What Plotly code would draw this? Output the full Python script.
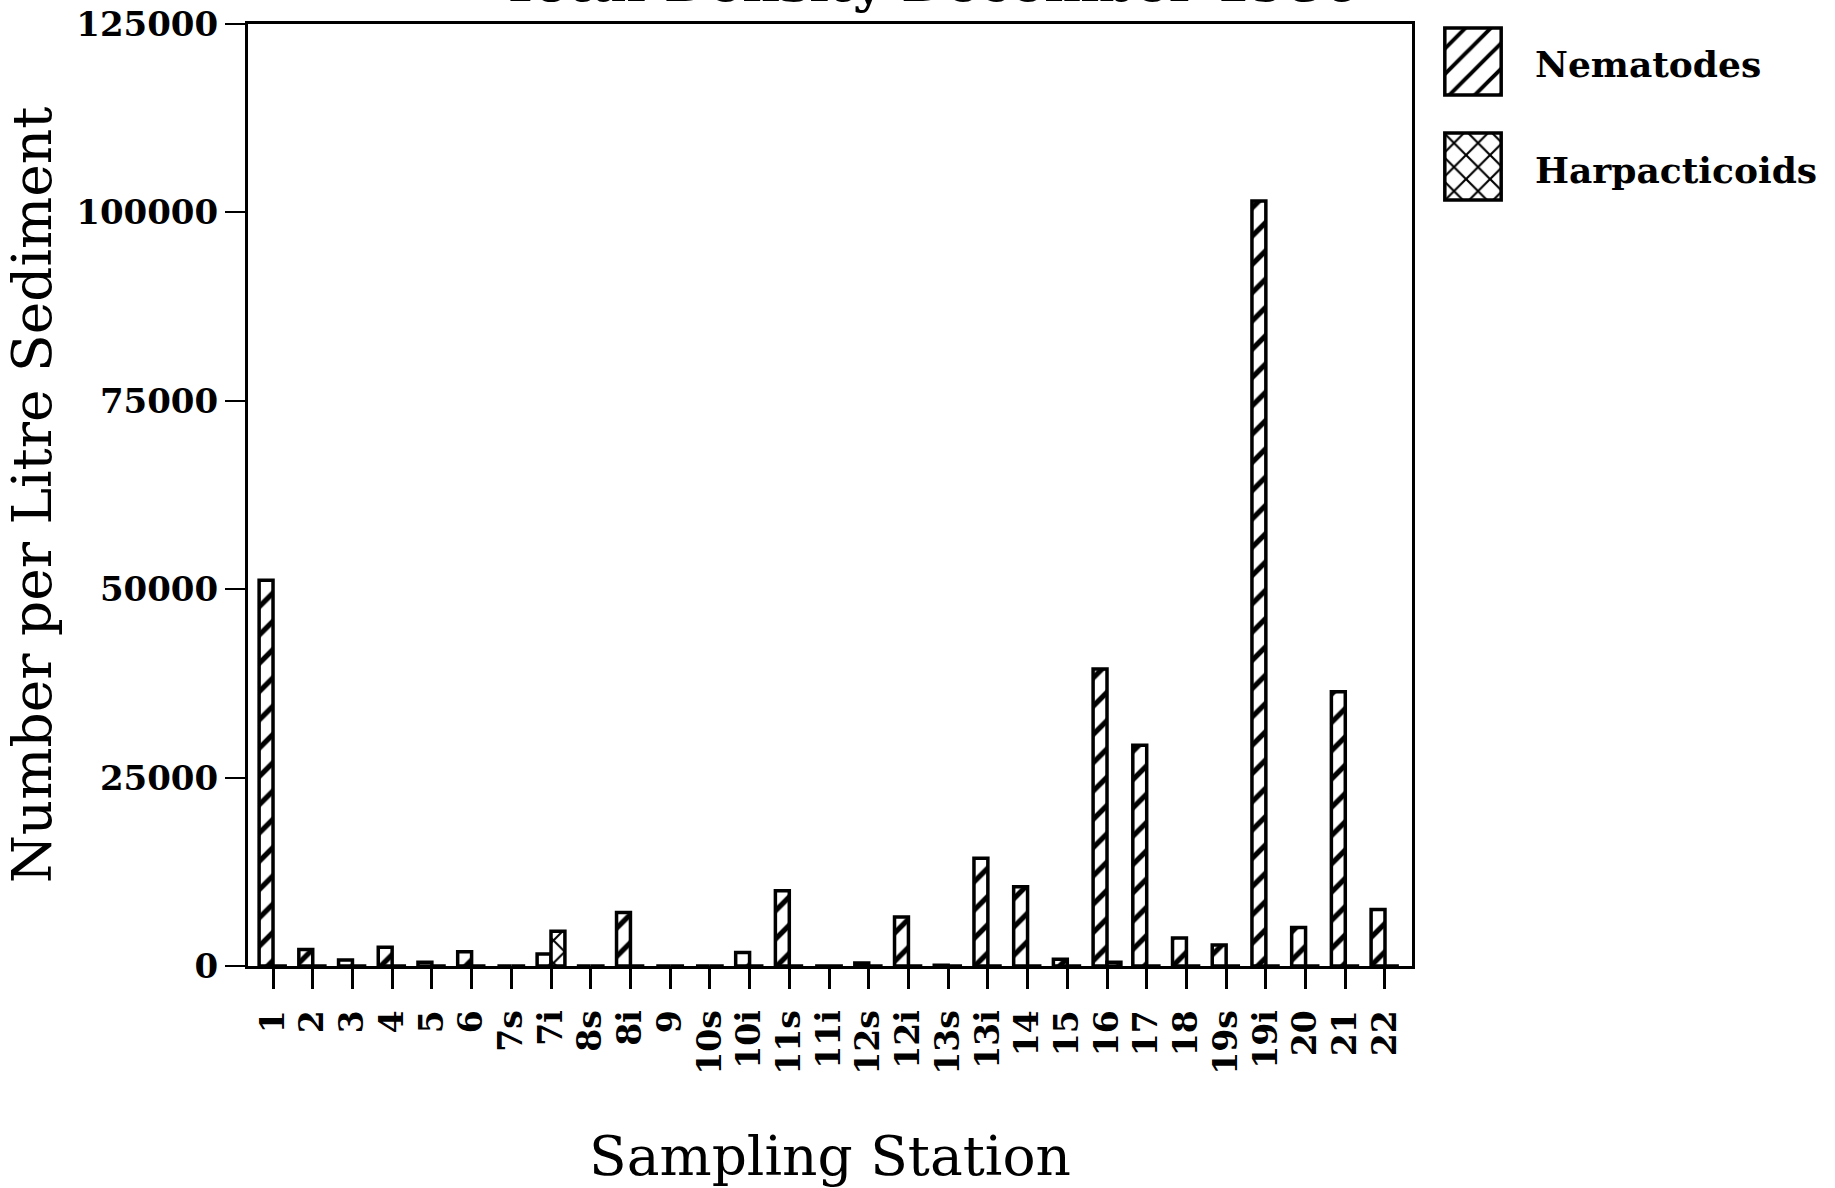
import plotly.graph_objects as go

# Sampling stations and densities (number per litre of sediment)
stations = ["1", "2", "3", "4", "5", "6", "7s", "7i", "8s", "8i", "9", "10s", "10i",
            "11s", "11i", "12s", "12i", "13s", "13i", "14", "15", "16", "17", "18",
            "19s", "19i", "20", "21", "22"]
nematodes = [51200, 2200, 800, 2500, 500, 1900, 0, 1600, 0, 7100, 0, 0, 1800,
             10000, 0, 400, 6500, 100, 14300, 10500, 900, 39400, 29300, 3700,
             2800, 101500, 5100, 36400, 7500]
harpacticoids = [0, 0, 0, 0, 0, 0, 0, 4600, 0, 0, 0, 0, 0,
                 0, 0, 0, 0, 0, 0, 0, 0, 500, 0, 0,
                 0, 0, 0, 0, 0]
y_ticks = [0, 25000, 50000, 75000, 100000, 125000]
series_names = ["Nematodes", "Harpacticoids"]

SERIF = "DejaVu Serif"
W, H = 1835, 1188
ML, MR, MT, MB = 248, 10, 24, 222
pw = W - ML - MR
ph = H - MT - MB
main_right = (1412 - ML) / pw

def px_x(x):
    return (x - ML) / pw

def px_y(y):
    return (H - MB - y) / ph

xs = list(range(len(stations)))
bar_w = 0.35
hatch = dict(shape="/", fgcolor="black", bgcolor="white", fgopacity=1,
             size=20, solidity=0.26)
cross = dict(shape="x", fgcolor="black", bgcolor="white", fgopacity=1,
             size=16, solidity=0.24)

fig = go.Figure()
fig.add_trace(go.Bar(
    x=xs, y=nematodes, name=series_names[0], offset=-bar_w, width=bar_w,
    marker=dict(color="white", pattern=hatch, line=dict(color="black", width=3.5)),
    showlegend=False))
fig.add_trace(go.Bar(
    x=xs, y=harpacticoids, name=series_names[1], offset=0, width=bar_w,
    marker=dict(color="white", pattern=cross, line=dict(color="black", width=3.5)),
    showlegend=False))

# Legend swatches drawn as single patterned bars on small hidden axes
fig.add_trace(go.Bar(
    x=[0], y=[1], width=1, xaxis="x2", yaxis="y2", showlegend=False,
    marker=dict(color="white", pattern=dict(shape="/", fgcolor="black", bgcolor="white",
                                            fgopacity=1, size=18, solidity=0.22),
                line=dict(color="black", width=3.5))))
fig.add_trace(go.Bar(
    x=[0], y=[1], width=1, xaxis="x3", yaxis="y3", showlegend=False,
    marker=dict(color="white", pattern=dict(shape="x", fgcolor="black", bgcolor="white",
                                            fgopacity=1, size=17, solidity=0.24),
                line=dict(color="black", width=3.5))))

sw_x = [px_x(1442), px_x(1504)]
fig.update_layout(
    width=W, height=H,
    margin=dict(l=ML, r=MR, t=MT, b=MB, autoexpand=False),
    paper_bgcolor="white", plot_bgcolor="white",
    barmode="overlay",
    font=dict(family=SERIF, color="black"),
    xaxis=dict(
        domain=[0, main_right], range=[-0.63, 28.68],
        tickmode="array", tickvals=xs, ticktext=stations, tickangle=-90,
        tickfont=dict(family=SERIF, size=33, weight="bold"),
        ticks="outside", ticklen=20, tickwidth=3, tickcolor="black",
        ticklabelstandoff=8,
        showline=True, linewidth=3, linecolor="black", mirror=True,
        showgrid=False, zeroline=False,
        title=dict(text="Sampling Station", font=dict(family=SERIF, size=55), standoff=68),
    ),
    yaxis=dict(
        range=[0, 125000], tickmode="array", tickvals=y_ticks,
        ticktext=[str(v) for v in y_ticks],
        tickfont=dict(family=SERIF, size=34, weight="bold"),
        ticks="outside", ticklen=20, tickwidth=2, tickcolor="black",
        ticklabelstandoff=0,
        showline=True, linewidth=3, linecolor="black", mirror=True,
        showgrid=False, zeroline=False,
        title=dict(text="Number per Litre Sediment", font=dict(family=SERIF, size=55),
                   standoff=16),
    ),
    xaxis2=dict(domain=sw_x, range=[-0.55, 0.55], visible=False, anchor="y2"),
    yaxis2=dict(domain=[px_y(97), px_y(26)], range=[-0.03, 1.03], visible=False, anchor="x2"),
    xaxis3=dict(domain=sw_x, range=[-0.55, 0.55], visible=False, anchor="y3"),
    yaxis3=dict(domain=[px_y(202), px_y(131)], range=[-0.03, 1.03], visible=False, anchor="x3"),
)

legend_font = dict(family=SERIF, size=36, weight="bold", color="black")
fig.add_annotation(x=px_x(1533), y=px_y(64), xref="paper", yref="paper",
                   text=series_names[0], showarrow=False, xanchor="left", yanchor="middle",
                   font=legend_font)
fig.add_annotation(x=px_x(1533), y=px_y(170), xref="paper", yref="paper",
                   text=series_names[1], showarrow=False, xanchor="left", yanchor="middle",
                   font=legend_font)

# Chart heading, running off the top edge of the page
fig.add_annotation(x=px_x(930), y=px_y(15), xref="paper", yref="paper",
                   text="Total Density December 1986", showarrow=False,
                   xanchor="center", yanchor="bottom",
                   font=dict(family=SERIF, size=52, weight="bold", color="black"))

fig.write_html("out.html")
